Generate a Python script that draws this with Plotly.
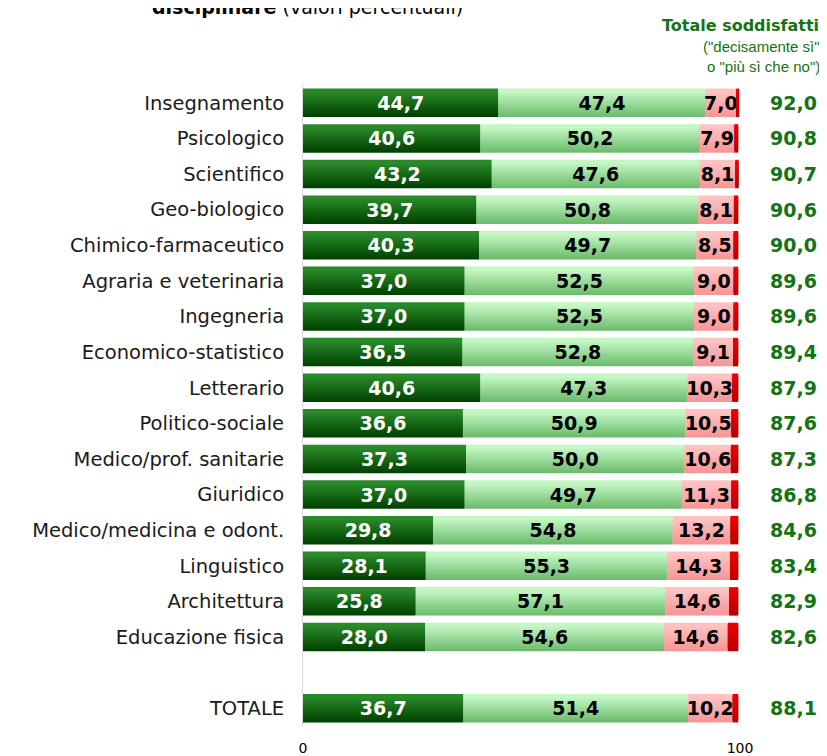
import plotly.graph_objects as go

categories = ["Insegnamento", "Psicologico", "Scientifico", "Geo-biologico",
              "Chimico-farmaceutico", "Agraria e veterinaria", "Ingegneria",
              "Economico-statistico", "Letterario", "Politico-sociale",
              "Medico/prof. sanitarie", "Giuridico", "Medico/medicina e odont.",
              "Linguistico", "Architettura", "Educazione fisica", "TOTALE"]
decisamente_si = [44.7, 40.6, 43.2, 39.7, 40.3, 37.0, 37.0, 36.5, 40.6, 36.6, 37.3, 37.0, 29.8, 28.1, 25.8, 28.0, 36.7]
piu_si_che_no = [47.4, 50.2, 47.6, 50.8, 49.7, 52.5, 52.5, 52.8, 47.3, 50.9, 50.0, 49.7, 54.8, 55.3, 57.1, 54.6, 51.4]
piu_no_che_si = [7.0, 7.9, 8.1, 8.1, 8.5, 9.0, 9.0, 9.1, 10.3, 10.5, 10.6, 11.3, 13.2, 14.3, 14.6, 14.6, 10.2]
decisamente_no = [0.7, 0.9, 0.8, 1.0, 1.1, 1.1, 1.1, 1.2, 1.4, 1.6, 1.7, 1.6, 1.8, 1.9, 2.1, 2.4, 1.3]
totale_soddisfatti = [92.0, 90.8, 90.7, 90.6, 90.0, 89.6, 89.6, 89.4, 87.9, 87.6, 87.3, 86.8, 84.6, 83.4, 82.9, 82.6, 88.1]

# row positions: 16 areas, one empty slot, then TOTALE
ypos = list(range(16)) + [17]

FONT = "DejaVu Sans"
GREEN = "#147314"
series = [
    (decisamente_si, (42, 138, 42), (0, 66, 0), "white"),
    (piu_si_che_no, (196, 247, 196), (110, 188, 110), "black"),
    (piu_no_che_si, (255, 194, 194), (247, 150, 150), "black"),
    (decisamente_no, (235, 0, 0), (185, 0, 0), None),
]

fig = go.Figure()
bar_w = 0.8
n_slices = 12
step = bar_w / (n_slices + 1)
base = [0.0] * len(categories)
for vals, top, bot, tcol in series:
    for i in range(n_slices):
        t = i / (n_slices - 1)
        c = tuple(round(bot[k] + (top[k] - bot[k]) * t) for k in range(3))
        off = bar_w / 2 - 2 * step - i * step  # i=0 bottom slice, drawn first
        fig.add_trace(go.Bar(
            y=ypos, x=vals, base=base, orientation="h",
            width=2 * step, offset=off,
            marker=dict(color="rgb(%d,%d,%d)" % c, line=dict(width=0)),
            showlegend=False, hoverinfo="skip"))
    if tcol is not None:
        fig.add_trace(go.Bar(
            y=ypos, x=vals, base=base, orientation="h",
            width=bar_w, offset=-bar_w / 2,
            marker=dict(color="rgba(0,0,0,0)", line=dict(width=0)),
            text=[("%.1f" % v).replace(".", ",") for v in vals],
            textposition="inside", insidetextanchor="middle",
            textfont=dict(family=FONT, size=19, color=tcol, weight="bold"),
            showlegend=False, hoverinfo="skip"))
    base = [b + v for b, v in zip(base, vals)]

# figure coordinates (page has 8px body margin)
L, R_EDGE, T, B = 295, 732, 77, 718
W, H = 819, 748
pw, ph = R_EDGE - L, B - T

def px_x(x):
    return (x - L) / pw

def px_y(y):
    return 1 + (T - y) / ph

annotations = []
for yv, tot in zip(ypos, totale_soddisfatti):
    annotations.append(dict(
        x=px_x(811), xref="paper", y=yv, yref="y",
        xanchor="right", yanchor="middle", showarrow=False,
        text="<b>" + ("%.1f" % tot).replace(".", ",") + "</b>",
        font=dict(family=FONT, size=19, color=GREEN)))

annotations += [
    dict(x=px_x(142), xref="paper", y=px_y(-1), yref="paper",
         xanchor="left", yanchor="middle", showarrow=False,
         text="<b>disciplinare</b> (valori percentuali)",
         font=dict(family=FONT, size=19, color="black")),
    dict(x=px_x(813), xref="paper", y=px_y(17), yref="paper",
         xanchor="right", yanchor="middle", showarrow=False,
         text="<b>Totale soddisfatti</b>",
         font=dict(family=FONT, size=16, color=GREEN)),
    dict(x=px_x(814), xref="paper", y=px_y(39), yref="paper",
         xanchor="right", yanchor="middle", showarrow=False,
         text='("decisamente sì"',
         font=dict(family="Liberation Sans Narrow, Liberation Sans", size=15, color=GREEN)),
    dict(x=px_x(814), xref="paper", y=px_y(59), yref="paper",
         xanchor="right", yanchor="middle", showarrow=False,
         text='o "più sì che no")',
         font=dict(family="Liberation Sans Narrow, Liberation Sans", size=15, color=GREEN)),
]

fig.update_layout(
    width=W, height=H,
    margin=dict(l=L, r=W - R_EDGE, t=T, b=H - B),
    barmode="overlay",
    plot_bgcolor="white", paper_bgcolor="white",
    uniformtext=dict(minsize=19, mode="show"),
    annotations=annotations,
    font=dict(family=FONT, color="black"),
)
fig.update_xaxes(range=[0, 100], tickvals=[0, 100], ticktext=["0", "100"],
                 showgrid=False, zeroline=False, showline=False, automargin=False,
                 tickfont=dict(family=FONT, size=14, color="black"), ticks="",
                 ticklabelstandoff=12)
fig.update_yaxes(range=[17.5, -0.5], tickvals=ypos, ticktext=categories,
                 showgrid=False, zeroline=False, showline=True, linecolor="#d9d9d9", linewidth=1,
                 ticks="", ticklabelstandoff=14, automargin=False,
                 tickfont=dict(family=FONT, size=19.5, color="#1a1a1a"))

fig.write_html("out.html")
